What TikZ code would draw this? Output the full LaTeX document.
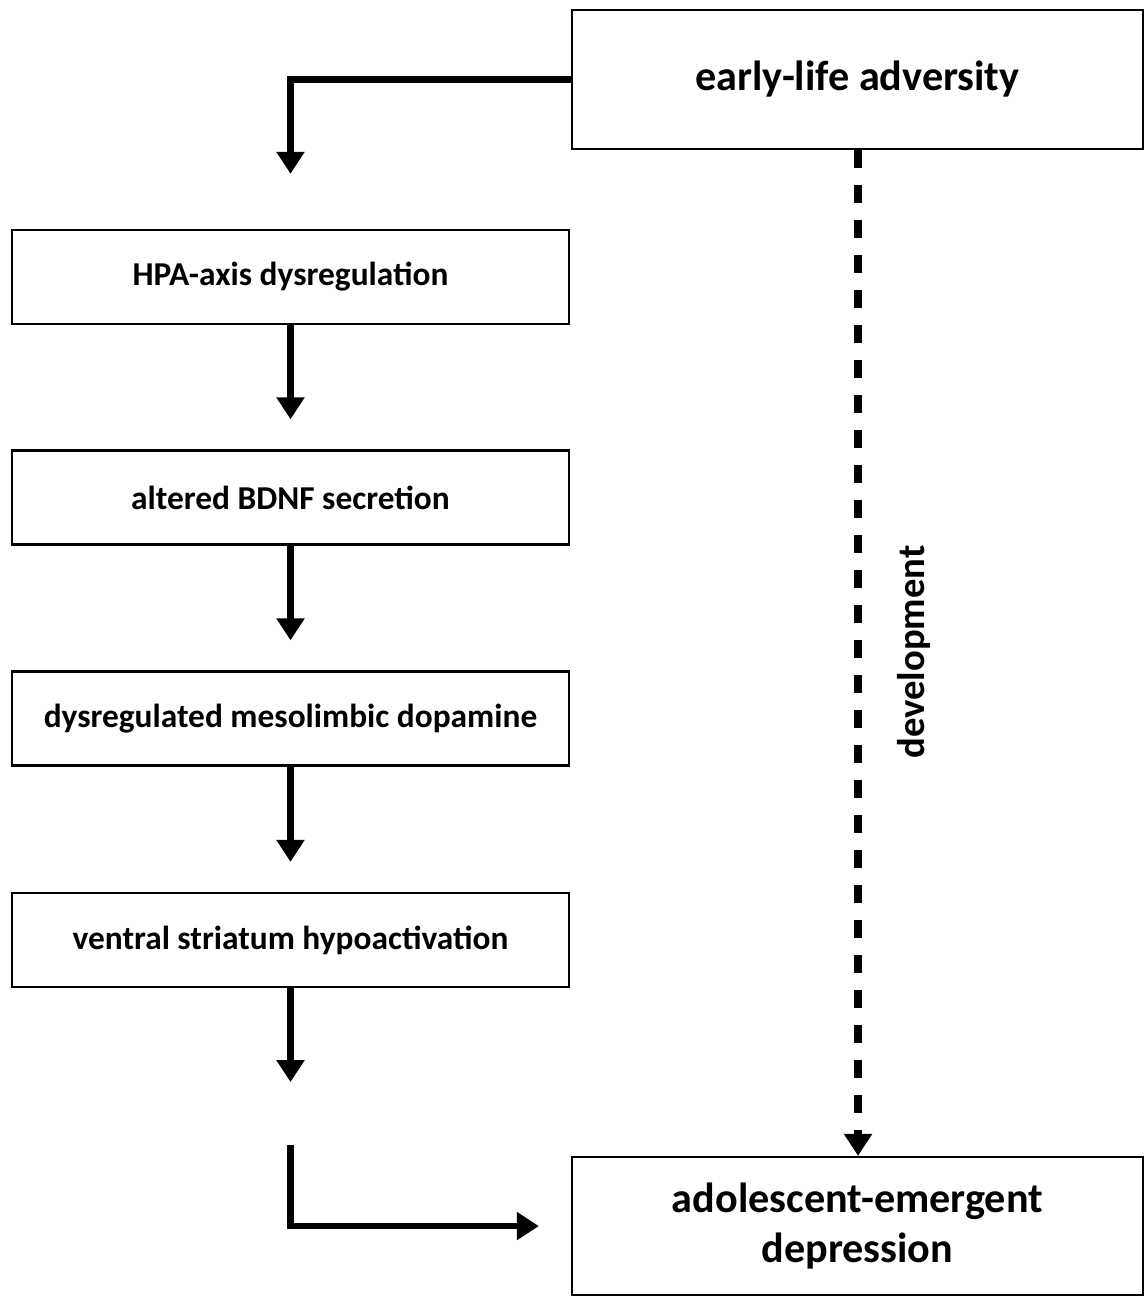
\documentclass[tikz,border=0pt]{standalone}
\usepackage{fontspec}
\setmainfont{Carlito}
\usetikzlibrary{arrows.meta,positioning}

\begin{document}
\begin{tikzpicture}[scale=0.1,
  stepbox/.style={draw=black, line width=0.7pt, minimum width=55.7mm, minimum height=9.4mm, font=\bfseries\fontsize{9.5}{11}\selectfont},
  endbox/.style={draw=black, line width=0.7pt, minimum width=57.1mm, minimum height=13.9mm, align=center, font=\bfseries\fontsize{12}{14.5}\selectfont},
  arr/.style={line width=1.8pt, -{Triangle[width=2.7mm,length=2.2mm]}},
  devline/.style={line width=2.2pt, dash pattern=on 1.8mm off 1.7mm, -{Triangle[width=2.7mm,length=2.2mm]}}]
\useasboundingbox (0,0) rectangle (114.7,-129.7);
\node [endbox] (adv) at (85.75,-7.95) {early-life adversity};
\node [stepbox] (hpa) at (29.05,-27.7) {HPA-axis dysregulation};
\node [stepbox] (bdnf) at (29.05,-49.75) {altered BDNF secretion};
\node [stepbox] (dopa) at (29.05,-71.85) {dysregulated mesolimbic dopamine};
\node [stepbox] (vs) at (29.05,-94) {ventral striatum hypoactivation};
\node [endbox, minimum height=13.8mm] (dep) at (85.75,-122.6) {adolescent-emergent\\depression};
\coordinate (gapa) at (29.05,-108.2);
\coordinate (gapb) at (29.05,-114.5);
\draw [arr, shorten >=5.5mm] (adv.west) -| (hpa.north);
\draw [arr, shorten >=3mm] (hpa.south) -- (bdnf.north);
\draw [arr, shorten >=3mm] (bdnf.south) -- (dopa.north);
\draw [arr, shorten >=3mm] (dopa.south) -- (vs.north);
\draw [arr] (vs.south) -- (gapa);
\draw [arr, shorten >=3.2mm] (gapb) |- (dep.west);
\draw [devline] ([xshift=0.5mm]adv.south) -- ([xshift=0.5mm]dep.north);
\node [rotate=90, font=\bfseries\fontsize{11}{13}\selectfont] (devlab) at (91.4,-65.2) {development};
\end{tikzpicture}
\end{document}
